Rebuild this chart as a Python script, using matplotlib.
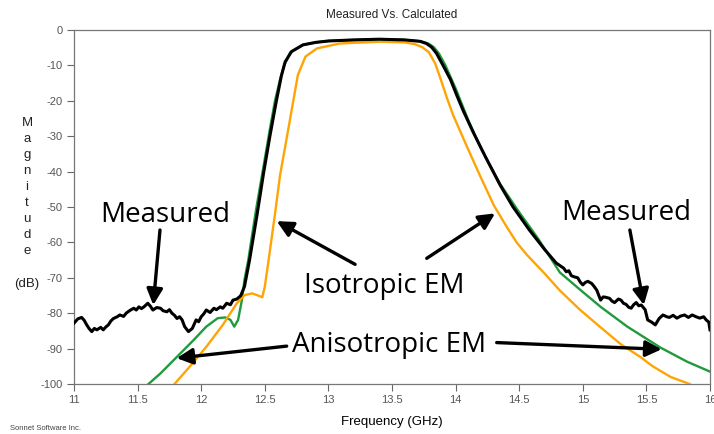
import matplotlib.pyplot as plt

# Measured (black), noisy trace
meas_ghz = [11.00, 11.01, 11.03, 11.06, 11.08, 11.10, 11.12, 11.14, 11.16, 11.18,
            11.21, 11.23, 11.25, 11.27, 11.29, 11.31, 11.34, 11.36, 11.39, 11.41,
            11.44, 11.47, 11.49, 11.51, 11.53, 11.55, 11.58, 11.60, 11.62, 11.65,
            11.68, 11.70, 11.73, 11.75, 11.77, 11.79, 11.81, 11.83, 11.85, 11.87,
            11.90, 11.93, 11.96, 11.98, 12.00, 12.02, 12.04, 12.07, 12.10, 12.12,
            12.15, 12.17, 12.20, 12.23, 12.25, 12.28, 12.31, 12.34, 12.38, 12.44,
            12.49, 12.54, 12.59, 12.63, 12.66, 12.71, 12.80, 12.90, 13.00, 13.20,
            13.40, 13.60, 13.72, 13.77, 13.81, 13.85, 13.90, 13.96, 14.01, 14.06,
            14.14, 14.24, 14.35, 14.45, 14.58, 14.70, 14.79, 14.85, 14.87, 14.89,
            14.91, 14.93, 14.96, 14.98, 15.00, 15.02, 15.04, 15.07, 15.09, 15.11,
            15.14, 15.16, 15.18, 15.21, 15.23, 15.25, 15.28, 15.30, 15.32, 15.34,
            15.36, 15.38, 15.40, 15.42, 15.44, 15.46, 15.49, 15.51, 15.54, 15.57,
            15.60, 15.63, 15.66, 15.68, 15.71, 15.74, 15.77, 15.80, 15.83, 15.86,
            15.89, 15.92, 15.95, 15.97, 15.99, 16.00]
meas_db = [-82.8, -82.4, -81.6, -81.2, -82.0, -83.3, -84.4, -85.2, -84.3, -84.7,
           -84.0, -84.7, -83.9, -83.3, -82.2, -81.5, -81.0, -80.5, -80.9, -80.0,
           -79.2, -78.6, -79.1, -78.2, -78.7, -78.2, -77.2, -78.0, -79.1, -78.4,
           -78.6, -79.3, -79.6, -79.0, -80.0, -80.6, -81.5, -81.0, -81.9, -83.8,
           -85.2, -84.3, -81.9, -82.4, -81.0, -80.2, -79.1, -79.8, -78.6, -79.0,
           -78.2, -78.6, -77.2, -77.6, -76.3, -76.0, -75.1, -72.5, -65.0, -52.0,
           -40.5, -30.0, -20.2, -13.0, -9.0, -6.1, -4.2, -3.5, -3.1, -2.8,
           -2.6, -2.8, -3.2, -3.8, -4.8, -6.6, -9.9, -14.0, -18.5, -22.8,
           -29.0, -36.2, -43.8, -49.9, -56.5, -62.0, -65.8, -67.3, -68.3, -68.0,
           -69.4, -69.7, -70.0, -71.2, -72.0, -71.3, -71.0, -71.6, -72.5, -73.5,
           -76.3, -75.4, -75.5, -75.8, -76.6, -77.0, -76.0, -76.3, -77.2, -77.5,
           -78.3, -78.6, -77.6, -77.0, -77.9, -77.7, -79.0, -81.9, -82.5, -83.3,
           -81.5, -80.5, -81.0, -81.2, -80.6, -81.4, -80.8, -80.5, -81.2, -80.5,
           -81.0, -81.4, -81.0, -81.9, -82.5, -84.7]

# Anisotropic EM (green)
aniso_ghz = [11.57, 11.68, 11.81, 11.94, 12.04, 12.13, 12.19, 12.23, 12.26, 12.29,
             12.32, 12.34, 12.37, 12.43, 12.49, 12.54, 12.58, 12.62, 12.65, 12.70,
             12.80, 12.90, 13.00, 13.20, 13.40, 13.60, 13.73, 13.79, 13.83, 13.87,
             13.92, 14.00, 14.10, 14.20, 14.35, 14.50, 14.65, 14.82, 14.98, 15.14,
             15.35, 15.61, 15.82, 16.00]
aniso_db = [-100.5, -97.0, -92.3, -87.6, -83.8, -81.4, -81.2, -81.9, -83.8, -81.9,
            -76.3, -70.6, -65.0, -51.0, -38.5, -28.0, -20.0, -14.0, -10.2, -6.3,
            -4.2, -3.5, -3.1, -2.8, -2.6, -2.8, -3.2, -3.9, -4.9, -6.7,
            -10.0, -16.5, -25.5, -33.5, -43.5, -51.5, -59.0, -68.5, -73.4, -78.2,
            -83.8, -89.7, -93.7, -96.5]

# Isotropic EM (orange)
iso_ghz = [11.79, 11.91, 12.04, 12.17, 12.28, 12.34, 12.40, 12.44, 12.48, 12.50,
           12.53, 12.58, 12.62, 12.66, 12.70, 12.76, 12.82, 12.91, 13.09, 13.41,
           13.60, 13.68, 13.74, 13.79, 13.84, 13.88, 13.93, 13.98, 14.09, 14.19,
           14.30, 14.40, 14.48, 14.56, 14.70, 14.82, 14.98, 15.14, 15.30, 15.45,
           15.55, 15.69, 15.84]
iso_db = [-100.0, -95.1, -89.5, -83.3, -77.2, -74.9, -74.4, -74.9, -75.5, -72.5,
          -65.0, -52.0, -41.0, -33.0, -24.9, -12.7, -7.5, -5.2, -3.8, -3.3,
          -3.5, -4.0, -4.9, -6.3, -9.5, -13.6, -19.0, -24.0, -33.0, -41.0,
          -49.5, -55.5, -60.0, -63.5, -68.8, -73.6, -79.1, -84.0, -88.8, -92.3,
          -95.0, -98.0, -100.0]

x_ticks = [11, 11.5, 12, 12.5, 13, 13.5, 14, 14.5, 15, 15.5, 16]
x_labels = ['11', '11.5', '12', '12.5', '13', '13.5', '14', '14.5', '15', '15.5', '16']
y_ticks = [0, -10, -20, -30, -40, -50, -60, -70, -80, -90, -100]
y_labels = ['0', '-10', '-20', '-30', '-40', '-50', '-60', '-70', '-80', '-90', '-100']

axis_font = 'Liberation Sans'
note_font = 'Open Sans'

fig = plt.figure(figsize=(7.14, 4.34), dpi=100)
ax = fig.add_axes([74 / 714, 1 - 384 / 434, 636 / 714, 354 / 434])

ax.plot(aniso_ghz, aniso_db, color='#1f9a3c', linewidth=1.7, zorder=2)
ax.plot(iso_ghz, iso_db, color='#ffa405', linewidth=1.7, zorder=3)
ax.plot(meas_ghz, meas_db, color='black', linewidth=2.2, zorder=4)

ax.set_xlim(11, 16)
ax.set_ylim(-100, 0)
ax.set_xticks(x_ticks)
ax.set_xticklabels(x_labels, fontfamily=axis_font)
ax.set_yticks(y_ticks)
ax.set_yticklabels(y_labels, fontfamily=axis_font)
ax.tick_params(direction='out', length=5, width=0.8, color='#666666',
               labelcolor='#555555', labelsize=8, pad=3)
for s in ax.spines.values():
    s.set_color('#777777')
    s.set_linewidth(0.9)

ax.set_title('Measured Vs. Calculated', fontsize=8.5, fontfamily=axis_font,
             color='#222222', pad=9)
ax.set_xlabel('Frequency (GHz)', fontsize=9.5, fontfamily=axis_font, labelpad=8)

# vertical y label, one letter per line
fig.text(27 / 714, 1 - 117 / 434, 'M\na\ng\nn\ni\nt\nu\nd\ne\n\n(dB)',
         ha='center', va='top', multialignment='center', linespacing=1.45,
         fontsize=9.5, fontfamily=axis_font, color='#222222')
fig.text(10 / 714, 1 - 428 / 434, 'Sonnet Software Inc.', fontsize=5.5,
         fontfamily=axis_font, color='#444444', va='center')

# annotations
txt = dict(fontsize=20, fontfamily=note_font, ha='center', va='baseline', zorder=6)
ax.text(11.72, -54.2, 'Measured', **txt)
ax.text(15.34, -53.7, 'Measured', **txt)
ax.text(13.44, -74.4, 'Isotropic EM', **txt)
ax.text(13.48, -90.9, 'Anisotropic EM', **txt)

arw = dict(arrowstyle='-|>', color='black', lw=2.4, mutation_scale=24,
           shrinkA=0, shrinkB=0)
arrows = [((11.676, -56.5), (11.623, -77.7)),
          ((15.37, -56.5), (15.48, -77.7)),
          ((13.21, -66.2), (12.594, -54.0)),
          ((13.773, -64.5), (14.31, -51.8)),
          ((12.672, -89.3), (11.807, -92.7)),
          ((14.323, -88.3), (15.62, -90.2))]
for tail, tip in arrows:
    ax.annotate('', xy=tip, xytext=tail, arrowprops=arw, zorder=5)

fig.savefig('out.png', dpi=100)
